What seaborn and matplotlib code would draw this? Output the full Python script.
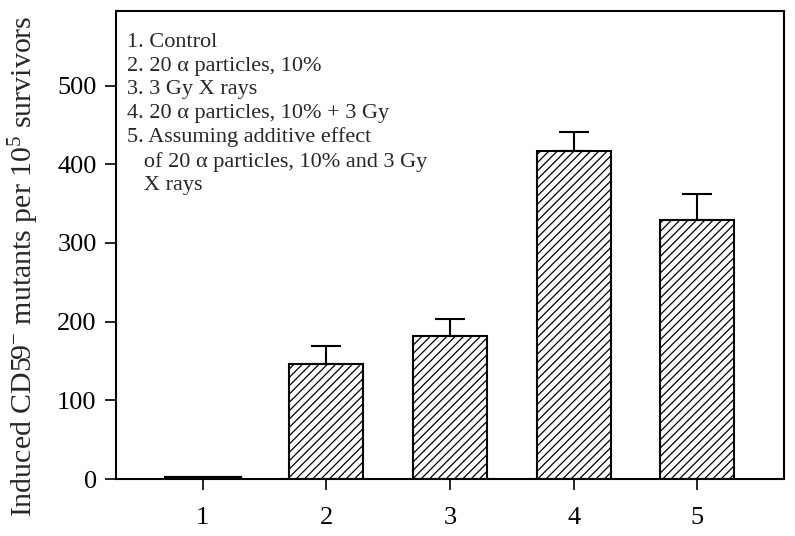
import numpy as np
import pandas as pd
import matplotlib
matplotlib.use("Agg")
import matplotlib.pyplot as plt
import seaborn as sns

# data
groups = ["1", "2", "3", "4", "5"]
means = [2, 146.5, 182, 417, 329]
errs = [0, 22.5, 21, 24, 33]
legend_lines = [
    "1. Control",
    "2. 20 \u03b1 particles, 10%",
    "3. 3 Gy X rays",
    "4. 20 \u03b1 particles, 10% + 3 Gy",
    "5. Assuming additive effect",
    "   of 20 \u03b1 particles, 10% and 3 Gy",
    "   X rays",
]
yticks = [0, 100, 200, 300, 400, 500]

sns.set_style("white")
plt.rcParams["font.family"] = ["Liberation Serif", "DejaVu Serif"]
plt.rcParams["mathtext.fontset"] = "custom"
plt.rcParams["mathtext.rm"] = "Liberation Serif"
plt.rcParams["mathtext.it"] = "Liberation Serif:italic"
plt.rcParams["hatch.linewidth"] = 0.9

df = pd.DataFrame({"group": groups, "mean": means})

fig = plt.figure(figsize=(7.95, 5.36), dpi=100)
ax = fig.add_axes([0.146, 0.106, 0.840, 0.874])

sns.barplot(data=df, x="group", y="mean", ax=ax, width=0.6,
            color="white", edgecolor="black", linewidth=1.5, hatch="////",
            errorbar=None)
# control bar is basically a flat thick line
ax.patches[0].set_linewidth(3)

x = np.arange(len(groups))
ax.errorbar(x[1:], means[1:], yerr=[np.zeros(len(groups) - 1), errs[1:]],
            fmt="none", ecolor="black", elinewidth=1.5, capsize=11, capthick=1.5)

ax.set_xlim(-0.7, 4.7)
ax.set_ylim(0, 595)
ax.set_yticks(yticks)
ax.set_xlabel("")
ax.set_ylabel(r"Induced CD59$^{-}$ mutants per 10$^{5}$ survivors", fontsize=21.5)
ax.yaxis.set_label_coords(-0.112, 0.455)
ax.tick_params(axis="both", labelsize=19, direction="out", length=8, width=1.2,
               colors="black", left=True, bottom=True)
ax.tick_params(axis="x", pad=12)
ax.tick_params(axis="y", pad=6)
for sp in ax.spines.values():
    sp.set_visible(True)
    sp.set_color("black")
    sp.set_linewidth(1.5)

ax.text(0.016, 0.952, "\n".join(legend_lines), transform=ax.transAxes,
        fontsize=16, va="top", ha="left", linespacing=1.32)

fig.savefig("out.png", dpi=100)
plt.close()
